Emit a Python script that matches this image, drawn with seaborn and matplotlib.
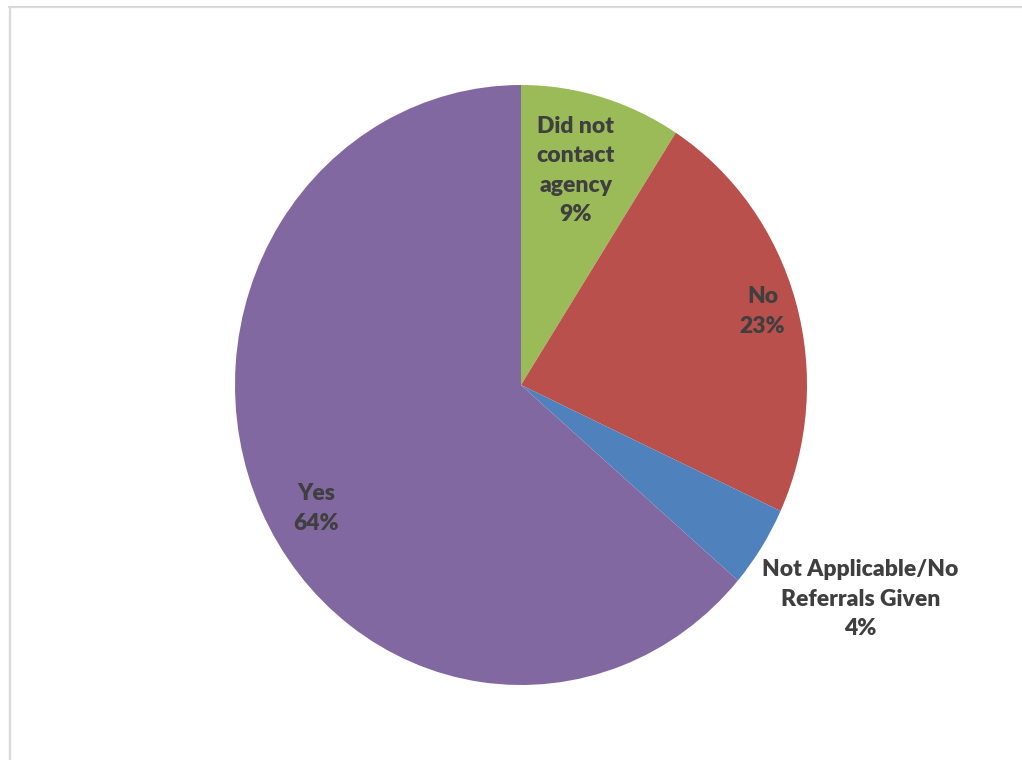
import numpy as np
import matplotlib
matplotlib.use("Agg")
import matplotlib.pyplot as plt
import seaborn as sns

# Data (clockwise from 12 o'clock)
categories = ["Did not\ncontact\nagency", "No", "Not Applicable/No\nReferrals Given", "Yes"]
shares = [9.1, 22.8, 4.4, 63.7]
colors = ["#9BBB59", "#B9504C", "#4F81BD", "#8268A1"]

sns.set_theme(style="white")
plt.rcParams["font.family"] = ["Lato", "DejaVu Sans"]

fig = plt.figure(figsize=(10.22, 7.6), dpi=100)
# pie box: centre (521, 385) px, 286 px wide radius, 300 px tall radius
ax = fig.add_axes([235 / 1022, 75 / 760, 572 / 1022, 600 / 760])

wedges, _ = ax.pie(shares, colors=colors, startangle=90, counterclock=False,
                   radius=1.0, wedgeprops=dict(linewidth=0))
ax.set_xlim(-1, 1)
ax.set_ylim(-1, 1)
ax.set_aspect("auto")
ax.axis("off")

# label placement: radial distance and small angle nudge per wedge
label_r = [0.74, 0.88, 1.385, 0.826]
label_nudge = [1.4, 0.0, 1.7, 5.2]
for w, name, val, r, d in zip(wedges, categories, shares, label_r, label_nudge):
    mid = np.deg2rad((w.theta1 + w.theta2) / 2 + d)
    ax.text(r * np.cos(mid), r * np.sin(mid), f"{name}\n{round(val)}%",
            ha="center", va="center", fontsize=16.5, fontweight="heavy",
            color="#3F3F3F", linespacing=1.5)

# light grey frame (top and left edges visible)
fig.add_artist(plt.Line2D([9 / 1022, 1], [1 - 7 / 760, 1 - 7 / 760],
                          color="#D9D9D9", lw=1.6, transform=fig.transFigure))
fig.add_artist(plt.Line2D([10 / 1022, 10 / 1022], [0, 1 - 7 / 760],
                          color="#D9D9D9", lw=1.6, transform=fig.transFigure))

fig.savefig("out.png", dpi=100, facecolor="white")
